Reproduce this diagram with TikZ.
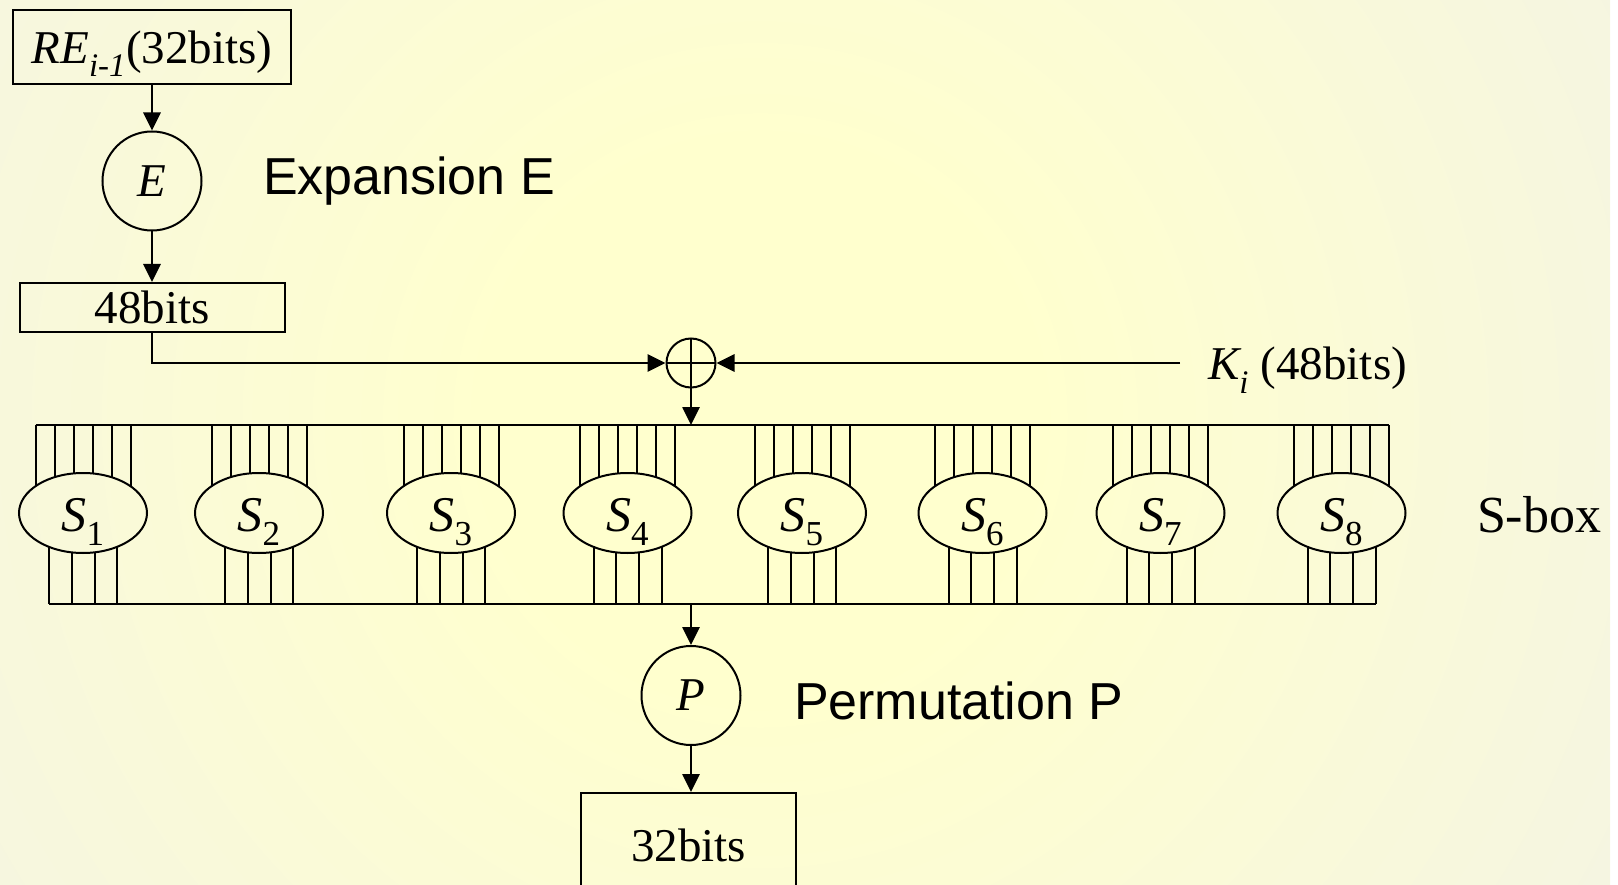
\documentclass[tikz,border=0pt]{standalone}
\usepackage{fontspec}
\setmainfont{Liberation Serif}
\setsansfont{Liberation Sans}
\usetikzlibrary{shapes.geometric,arrows.meta,calc}
\definecolor{glowin}{RGB}{255,255,206}
\definecolor{glowout}{RGB}{240,240,235}
\pgfdeclareradialshading{glow}{\pgfpoint{0bp}{0bp}}{color(0bp)=(glowin); color(8bp)=(glowin); color(39bp)=(glowout); color(80bp)=(glowout)}
\newcommand{\dropby}[2]{\raisebox{-#1}[\height][\depth]{#2}}
\begin{document}
\begin{tikzpicture}[x=1pt, y=-1pt, line width=2pt,
    bitbox/.style={draw, rectangle, inner sep=0pt, font=\fontsize{47}{56}\selectfont},
    op/.style={draw, circle, minimum size=99pt, inner sep=0pt, font=\fontsize{47}{56}\selectfont\itshape},
    sbox/.style={draw, ellipse, minimum width=128pt, minimum height=80pt, inner sep=0pt, font=\fontsize{50}{60}\selectfont},
    xorop/.style={draw, circle, minimum size=49pt, inner sep=0pt,
        path picture={\draw (path picture bounding box.north) -- (path picture bounding box.south)
                            (path picture bounding box.west) -- (path picture bounding box.east);}},
    note/.style={font=\fontsize{52}{62}\selectfont\sffamily, inner sep=0pt, anchor=base west},
    label/.style={font=\fontsize{47}{56}\selectfont, inner sep=0pt, anchor=base west},
    flow/.style={line width=2.7pt, -{Triangle[length=18pt,width=17pt]}}]
        % background
        \useasboundingbox (0,0) rectangle (1618,885);
        \begin{scope}
        \clip (0,0) rectangle (1618,885);
        \shade[shading=glow] (-90,-430) rectangle (1610,1270);
        \end{scope}

        \node[bitbox, minimum width=278pt, minimum height=74pt] (re) at (152,47) {\dropby{7pt}{{\itshape RE\textsubscript{i-1}}(32bits)}};
        \node[op] (e) at (152,181) {E};
        \node[note] (exp) at (262,195) {Expansion E};
        \node[bitbox, minimum width=265pt, minimum height=49pt] (b48) at (152,307.5) {48bits};

        \draw[flow] (re) -- (e);
        \draw[flow] (e) -- (b48);

        \node[xorop] (xor) at (691,363) {};
        \coordinate (kin) at (1180,363);
        \node[label] (k) at (1207,380) {{\itshape K\textsubscript{i}} (48bits)};
        \coordinate (tin) at (691,425);

        \draw[flow] (b48.south) |- (xor.west);
        \draw[flow] (kin) -- (xor.east);
        \draw[flow] (xor) -- (tin);

        \coordinate (tl) at (35.5,425);
        \coordinate (tr) at (1389,425);
        \coordinate (bl) at (49,604);
        \coordinate (br) at (1375.5,604);
        \draw (tl) -- (tr);
        \draw (bl) -- (br);

        \foreach \x [count=\i] in {83,259,451,627.5,802,982.5,1160.5,1341.5} {
            \node[sbox] (s\i) at (\x,513) {\dropby{9pt}{{\itshape S}\textsubscript{\i}}};
            \foreach \dx in {-47.5,-28.5,-9.5,9.5,28.5,47.5} {
                \pgfmathsetmacro\dy{40*sqrt(1-(\dx/64)^2)}
                \draw ($(s\i.center)+(\dx,-\dy)$) -- ({\x+\dx},425);
            }
            \foreach \dx in {-34,-11.5,11.5,34} {
                \pgfmathsetmacro\dy{40*sqrt(1-(\dx/64)^2)}
                \draw ($(s\i.center)+(\dx,\dy)$) -- ({\x+\dx},604);
            }
        }
        \node[font=\fontsize{52}{62}\selectfont, inner sep=0pt, anchor=base west] (sb) at (1476,532) {S-box};

        \coordinate (bout) at (691,604);
        \node[op] (p) at (691,695.5) {P};
        \node[note] (perm) at (793,719) {Permutation P};
        \node[bitbox, minimum width=215pt, minimum height=104pt] (b32) at (688.5,845) {32bits};

        \draw[flow] (bout) -- (p);
        \draw[flow] (p.south) -- (p.south |- b32.north);
\end{tikzpicture}
\end{document}
